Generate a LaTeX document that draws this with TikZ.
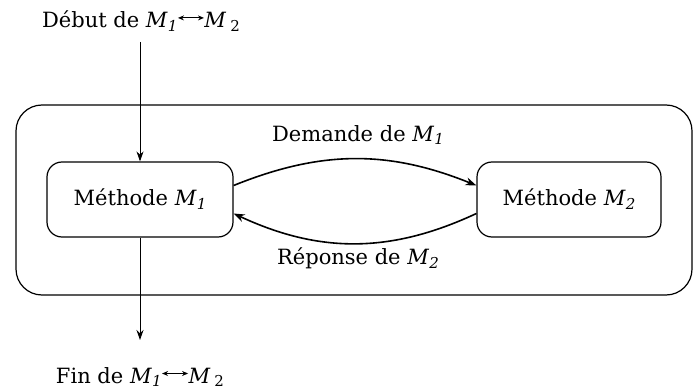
\documentclass[tikz,border=0pt]{standalone}
\usepackage{fontspec}
\setmainfont{DejaVu Serif}
\usetikzlibrary{arrows.meta}
\newcommand{\Msub}[1]{\textit{M\kern0.5pt\raisebox{-0.35ex}{\fontsize{15}{15}\selectfont #1}}}
\newcommand{\Mgap}[1]{\textit{M}\kern4pt\raisebox{-0.35ex}{\fontsize{15}{15}\selectfont #1}}
\newcommand{\lrarr}{\tikz[baseline=-0.3ex]\draw[line width=1pt,{Stealth[length=6pt,width=5pt]}-{Stealth[length=6pt,width=5pt]}] (0,0.3em) -- (26pt,0.3em);}
\begin{document}
\begin{tikzpicture}[x=1pt,y=1pt,
  every node/.style={font=\fontsize{21}{25}\selectfont},
  methbox/.style={draw,line width=1.2pt,rounded corners=15pt,minimum width=186pt,minimum height=75pt,inner sep=0pt},
  outerbox/.style={draw,line width=1.2pt,rounded corners=26pt},
  flow/.style={line width=0.9pt,-{Stealth[length=10pt,width=7pt]}},
  msg/.style={line width=1.6pt,-{Stealth[length=11pt,width=8pt]}},
  lbl/.style={inner sep=0pt}]
\useasboundingbox (0,0) rectangle (693,391);
\draw[outerbox] (16,96) rectangle (692,286);
\node[methbox] (m1) at (140,191.5) {Méthode \Msub{1}};
\node[methbox,minimum width=184pt] (m2) at (569,191.5) {Méthode \Msub{2}};
\node[lbl] (deb) at (141,370) {Début de \Msub{1}\lrarr\Mgap{2}};
\node[lbl] (fin) at (140,14) {Fin de \Msub{1}\lrarr\Mgap{2}};
\node[lbl] (dem) at (358,256) {Demande de \Msub{1}};
\node[lbl] (rep) at (358,133) {Réponse de \Msub{2}};
\coordinate (topin) at (140,349);
\coordinate (botout) at (140,51);
\draw[flow] (topin) -- (m1.north);
\draw[flow] (m1.south) -- (botout);
\draw[msg] ([yshift=14pt]m1.east) to[out=22,in=158] ([yshift=14pt]m2.west);
\draw[msg] ([yshift=-14pt]m2.west) to[out=205,in=-25] ([yshift=-14pt]m1.east);
\end{tikzpicture}
\end{document}
